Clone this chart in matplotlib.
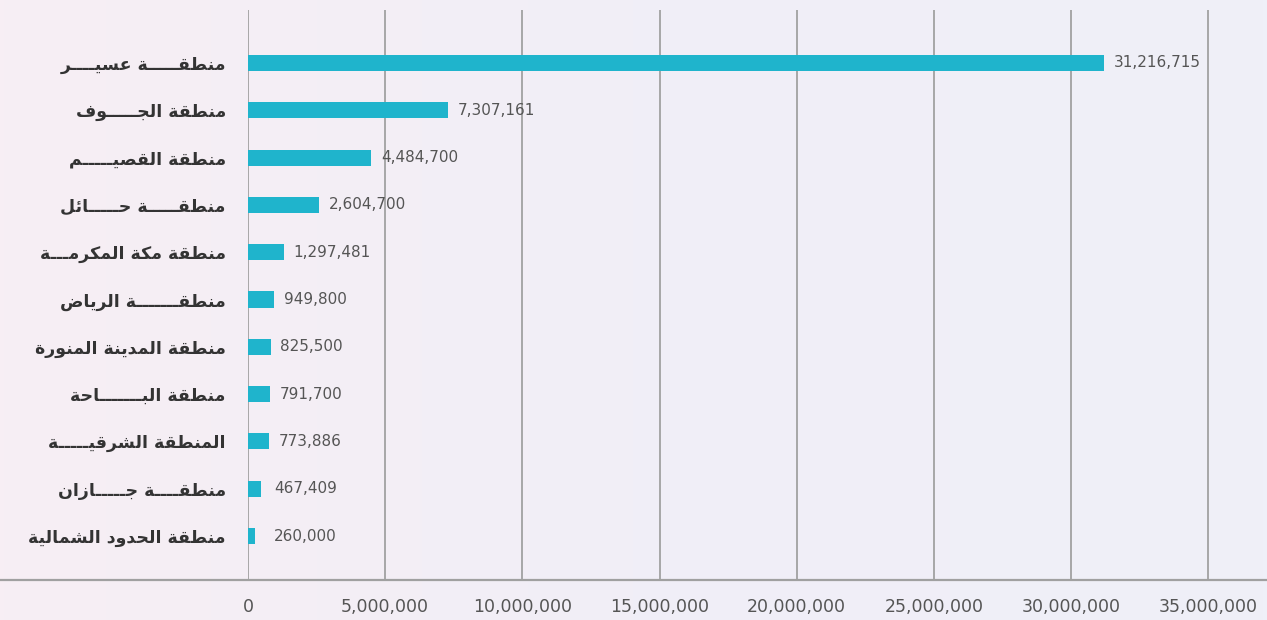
import numpy as np
import matplotlib.pyplot as plt
from matplotlib.lines import Line2D
from matplotlib.ticker import FuncFormatter

# البيانات
regions = [
    "منطقـــــة عسيــــر",
    "منطقة الجـــــوف",
    "منطقة القصيـــــم",
    "منطقـــــة حـــــائل",
    "منطقة مكة المكرمـــة",
    "منطقـــــــة الرياض",
    "منطقة المدينة المنورة",
    "منطقة البـــــــاحة",
    "المنطقة الشرقيـــــة",
    "منطقــــة جـــــازان",
    "منطقة الحدود الشمالية",
]
values = [31216715, 7307161, 4484700, 2604700, 1297481, 949800,
          825500, 791700, 773886, 467409, 260000]
x_ticks = [0, 5000000, 10000000, 15000000, 20000000, 25000000, 30000000, 35000000]

# Formas contextuais árabes (isolada, final, inicial, medial)
FORMS = {
    'ء': (0xFE80, None, None, None),
    'ا': (0xFE8D, 0xFE8E, None, None),
    'ب': (0xFE8F, 0xFE90, 0xFE91, 0xFE92),
    'ة': (0xFE93, 0xFE94, None, None),
    'ت': (0xFE95, 0xFE96, 0xFE97, 0xFE98),
    'ث': (0xFE99, 0xFE9A, 0xFE9B, 0xFE9C),
    'ج': (0xFE9D, 0xFE9E, 0xFE9F, 0xFEA0),
    'ح': (0xFEA1, 0xFEA2, 0xFEA3, 0xFEA4),
    'خ': (0xFEA5, 0xFEA6, 0xFEA7, 0xFEA8),
    'د': (0xFEA9, 0xFEAA, None, None),
    'ذ': (0xFEAB, 0xFEAC, None, None),
    'ر': (0xFEAD, 0xFEAE, None, None),
    'ز': (0xFEAF, 0xFEB0, None, None),
    'س': (0xFEB1, 0xFEB2, 0xFEB3, 0xFEB4),
    'ش': (0xFEB5, 0xFEB6, 0xFEB7, 0xFEB8),
    'ص': (0xFEB9, 0xFEBA, 0xFEBB, 0xFEBC),
    'ض': (0xFEBD, 0xFEBE, 0xFEBF, 0xFEC0),
    'ط': (0xFEC1, 0xFEC2, 0xFEC3, 0xFEC4),
    'ظ': (0xFEC5, 0xFEC6, 0xFEC7, 0xFEC8),
    'ع': (0xFEC9, 0xFECA, 0xFECB, 0xFECC),
    'غ': (0xFECD, 0xFECE, 0xFECF, 0xFED0),
    'ف': (0xFED1, 0xFED2, 0xFED3, 0xFED4),
    'ق': (0xFED5, 0xFED6, 0xFED7, 0xFED8),
    'ك': (0xFED9, 0xFEDA, 0xFEDB, 0xFEDC),
    'ل': (0xFEDD, 0xFEDE, 0xFEDF, 0xFEE0),
    'م': (0xFEE1, 0xFEE2, 0xFEE3, 0xFEE4),
    'ن': (0xFEE5, 0xFEE6, 0xFEE7, 0xFEE8),
    'ه': (0xFEE9, 0xFEEA, 0xFEEB, 0xFEEC),
    'و': (0xFEED, 0xFEEE, None, None),
    'ى': (0xFEEF, 0xFEF0, None, None),
    'ي': (0xFEF1, 0xFEF2, 0xFEF3, 0xFEF4),
    'ئ': (0xFE89, 0xFE8A, 0xFE8B, 0xFE8C),
}
TATWEEL = 'ـ'


def joins_left(c):
    # letra que se liga à seguinte
    if c == TATWEEL:
        return True
    f = FORMS.get(c)
    return f is not None and f[2] is not None


def joins_right(c):
    if c == TATWEEL:
        return True
    f = FORMS.get(c)
    return f is not None and f[1] is not None


def shape(text):
    out = []
    for i, c in enumerate(text):
        if c not in FORMS:
            out.append(c)
            continue
        prev = text[i - 1] if i > 0 else ''
        nxt = text[i + 1] if i + 1 < len(text) else ''
        p = bool(prev) and joins_left(prev) and joins_right(c)
        n = bool(nxt) and joins_left(c) and joins_right(nxt)
        iso, fin, ini, med = FORMS[c]
        if p and n:
            out.append(chr(med))
        elif p:
            out.append(chr(fin))
        elif n:
            out.append(chr(ini))
        else:
            out.append(chr(iso))
    return ''.join(out)[::-1]


W, H = 1267, 620
fig = plt.figure(figsize=(W / 100, H / 100), dpi=100)

# fundo em degradê suave
bg = fig.add_axes([0, 0, 1, 1], zorder=-10)
left_col = np.array([247, 238, 244]) / 255
mid_col = np.array([241, 238, 247]) / 255
right_col = np.array([239, 240, 248]) / 255
t = np.linspace(0, 1, 300)
grad = np.where(t[:, None] < 0.5,
                left_col + (mid_col - left_col) * (t[:, None] * 2),
                mid_col + (right_col - mid_col) * ((t[:, None] - 0.5) * 2))
bg.imshow(grad[None, :, :], aspect='auto', extent=[0, 1, 0, 1])
bg.axis('off')

ax = fig.add_axes([248 / W, 1 - 580 / H, 1 - 248 / W, (580 - 10) / H])
ax.set_facecolor('none')

y = np.arange(len(regions))
ax.barh(y, values, height=0.34, color='#1fb4cc', zorder=3)

ax.set_xlim(0, 37140000)
ax.set_ylim(len(regions) - 1 + 0.93, -1.12)

ax.set_xticks(x_ticks)
ax.xaxis.set_major_formatter(FuncFormatter(lambda v, p: f"{int(v):,}"))
ax.tick_params(axis='x', length=0, pad=13, labelsize=12.5, labelcolor='#555555')
for lbl in ax.get_xticklabels():
    lbl.set_fontfamily('DejaVu Sans')

ax.set_yticks(y)
ax.set_yticklabels([shape(r) for r in regions], fontsize=12.5, color='#333333',
                   fontfamily='DejaVu Sans', fontweight='bold')
ax.tick_params(axis='y', length=0, pad=16)

ax.grid(axis='x', color='#9a9a9a', linewidth=1.2, zorder=1)
for s in ['top', 'right', 'left', 'bottom']:
    ax.spines[s].set_visible(False)

# linha de base em toda a largura
fig.add_artist(Line2D([0, 1], [1 - 580 / H, 1 - 580 / H], color='#a0a0a0',
                      linewidth=1.6, transform=fig.transFigure))

# rótulos de valor
for yi, v in zip(y, values):
    ax.annotate(f"{v:,}", xy=(max(v, 600000), yi), xytext=(7, 0),
                textcoords='offset points', va='center', ha='left',
                fontsize=11, color='#555555', fontfamily='DejaVu Sans', zorder=4)

fig.savefig('out.png', dpi=100)
